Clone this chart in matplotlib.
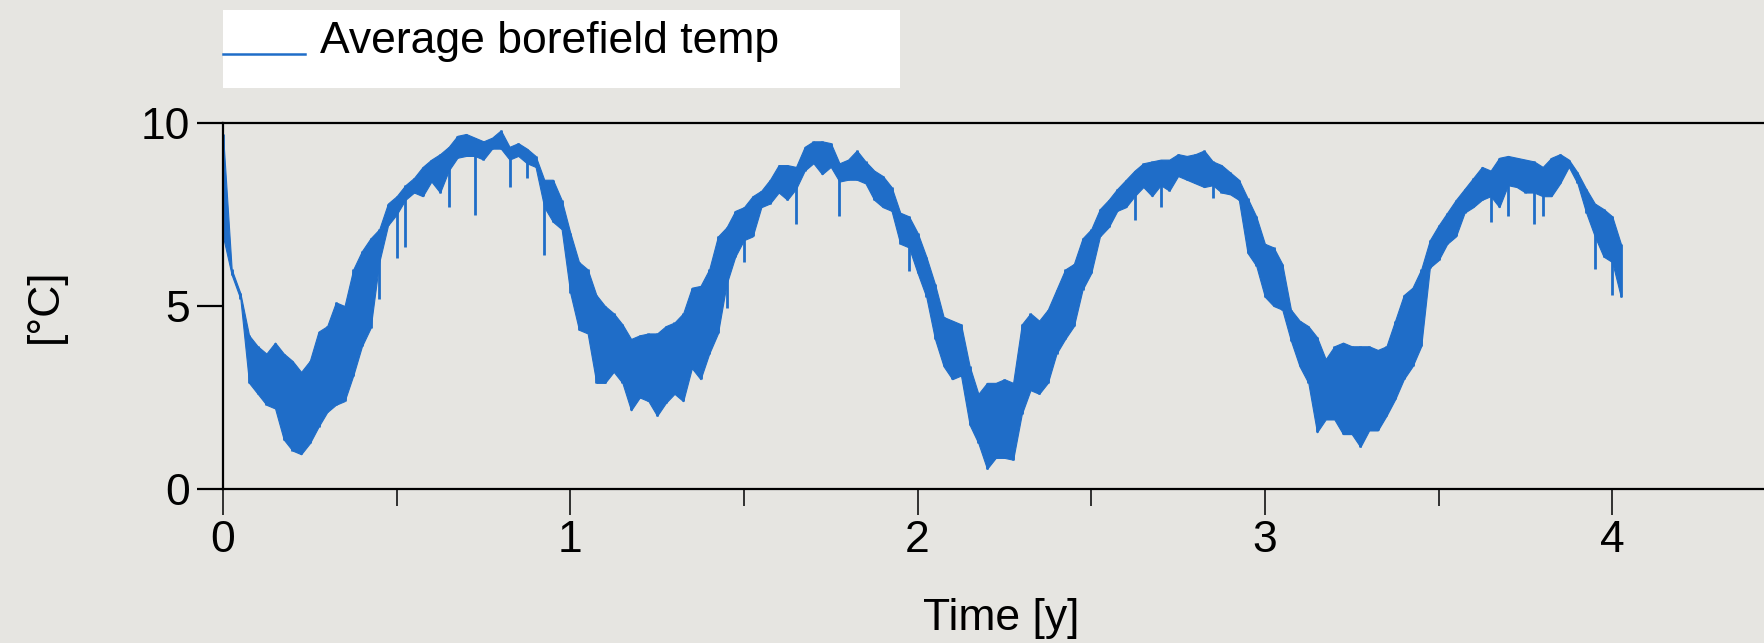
import matplotlib
matplotlib.use("Agg")
import matplotlib.pyplot as plt
from matplotlib.lines import Line2D
from matplotlib.patches import Rectangle

plt.rcParams['font.family'] = ['Liberation Sans', 'DejaVu Sans']

# ---- data (years; degC) ----
time_y = [
    0.000, 0.025, 0.050, 0.075, 0.100, 0.125, 0.150, 0.175, 0.200, 0.225,
    0.250, 0.275, 0.300, 0.325, 0.350, 0.375, 0.400, 0.425, 0.450, 0.475,
    0.500, 0.525, 0.550, 0.575, 0.600, 0.625, 0.650, 0.675, 0.700, 0.725,
    0.750, 0.775, 0.800, 0.825, 0.850, 0.875, 0.900, 0.925, 0.950, 0.975,
    1.000, 1.025, 1.050, 1.075, 1.100, 1.125, 1.150, 1.175, 1.200, 1.225,
    1.250, 1.275, 1.300, 1.325, 1.350, 1.375, 1.400, 1.425, 1.450, 1.475,
    1.500, 1.525, 1.550, 1.575, 1.600, 1.625, 1.650, 1.675, 1.700, 1.725,
    1.750, 1.775, 1.800, 1.825, 1.850, 1.875, 1.900, 1.925, 1.950, 1.975,
    2.000, 2.025, 2.050, 2.075, 2.100, 2.125, 2.150, 2.175, 2.200, 2.225,
    2.250, 2.275, 2.300, 2.325, 2.350, 2.375, 2.400, 2.425, 2.450, 2.475,
    2.500, 2.525, 2.550, 2.575, 2.600, 2.625, 2.650, 2.675, 2.700, 2.725,
    2.750, 2.775, 2.800, 2.825, 2.850, 2.875, 2.900, 2.925, 2.950, 2.975,
    3.000, 3.025, 3.050, 3.075, 3.100, 3.125, 3.150, 3.175, 3.200, 3.225,
    3.250, 3.275, 3.300, 3.325, 3.350, 3.375, 3.400, 3.425, 3.450, 3.475,
    3.500, 3.525, 3.550, 3.575, 3.600, 3.625, 3.650, 3.675, 3.700, 3.725,
    3.750, 3.775, 3.800, 3.825, 3.850, 3.875, 3.900, 3.925, 3.950, 3.975,
    4.000, 4.025,
]
# highest excursion in each sample window
temp_upper = [
    9.70, 6.00, 5.35, 4.20, 3.90, 3.70, 4.00, 3.70, 3.50, 3.20,
    3.50, 4.30, 4.45, 5.10, 5.00, 6.00, 6.50, 6.85, 7.10, 7.80,
    8.00, 8.30, 8.50, 8.80, 9.00, 9.15, 9.35, 9.65, 9.70, 9.60,
    9.50, 9.60, 9.80, 9.35, 9.45, 9.30, 9.10, 8.45, 8.45, 7.90,
    7.00, 6.20, 6.00, 5.30, 5.00, 4.80, 4.50, 4.10, 4.20, 4.25,
    4.25, 4.45, 4.55, 4.80, 5.50, 5.55, 6.00, 6.90, 7.15, 7.60,
    7.70, 8.00, 8.15, 8.45, 8.85, 8.85, 8.80, 9.35, 9.50, 9.50,
    9.45, 8.90, 9.00, 9.25, 8.95, 8.70, 8.55, 8.25, 7.55, 7.45,
    7.00, 6.35, 5.60, 4.70, 4.60, 4.50, 3.35, 2.60, 2.90, 2.90,
    3.00, 2.90, 4.50, 4.80, 4.60, 4.90, 5.45, 6.00, 6.15, 6.85,
    7.10, 7.65, 7.90, 8.20, 8.45, 8.70, 8.90, 8.95, 9.00, 9.00,
    9.15, 9.10, 9.15, 9.25, 8.95, 8.85, 8.65, 8.45, 7.95, 7.45,
    6.70, 6.60, 6.15, 4.90, 4.60, 4.45, 4.15, 3.55, 3.90, 4.00,
    3.90, 3.90, 3.90, 3.80, 3.90, 4.60, 5.30, 5.50, 6.00, 6.80,
    7.20, 7.55, 7.90, 8.20, 8.50, 8.80, 8.70, 9.05, 9.10, 9.05,
    9.00, 8.95, 8.80, 9.05, 9.15, 9.00, 8.65, 8.20, 7.80, 7.65,
    7.45, 6.70,
]
# lowest excursion (tips of the downward spikes) in each sample window
temp_lower = [
    6.90, 5.85, 5.20, 2.90, 2.60, 2.30, 2.20, 1.35, 1.05, 0.95,
    1.25, 1.70, 2.10, 2.30, 2.40, 3.10, 3.90, 4.40, 5.20, 7.20,
    6.30, 6.60, 8.10, 8.00, 8.40, 8.10, 7.70, 9.05, 9.10, 7.50,
    9.00, 9.30, 9.30, 8.25, 9.10, 8.50, 8.80, 6.40, 7.30, 7.10,
    5.35, 4.35, 4.25, 2.90, 2.90, 3.20, 2.90, 2.15, 2.50, 2.40,
    2.00, 2.35, 2.60, 2.40, 3.30, 3.00, 3.70, 4.25, 4.95, 6.35,
    6.20, 6.90, 7.70, 7.80, 8.10, 7.90, 7.25, 8.70, 8.90, 8.60,
    8.80, 7.45, 8.45, 8.45, 8.35, 7.90, 7.70, 7.60, 6.70, 5.95,
    5.90, 5.25, 4.10, 3.35, 3.00, 3.10, 1.75, 1.25, 0.55, 0.85,
    0.85, 0.80, 2.05, 2.70, 2.60, 2.90, 3.70, 4.10, 4.45, 5.45,
    5.90, 6.90, 7.15, 7.60, 7.70, 7.35, 8.25, 8.00, 7.70, 8.15,
    8.55, 8.45, 8.35, 8.25, 7.95, 8.10, 8.05, 7.90, 6.45, 6.10,
    5.25, 5.00, 4.90, 4.05, 3.35, 2.90, 1.55, 1.90, 1.90, 1.50,
    1.50, 1.15, 1.60, 1.60, 2.00, 2.45, 3.00, 3.35, 3.90, 6.05,
    6.25, 6.70, 6.90, 7.55, 7.70, 7.90, 7.30, 7.70, 7.45, 8.25,
    8.10, 7.25, 7.45, 8.00, 8.35, 8.80, 8.35, 7.55, 6.00, 6.35,
    5.30, 5.25,
]
# lower edge of the dense part of the band (without the isolated spikes)
temp_core_lower = [
    6.90, 5.85, 5.20, 2.90, 2.60, 2.30, 2.20, 1.35, 1.05, 0.95,
    1.25, 1.70, 2.10, 2.30, 2.40, 3.10, 3.90, 4.40, 6.20, 7.20,
    7.50, 7.90, 8.10, 8.00, 8.40, 8.10, 8.70, 9.05, 9.10, 9.10,
    9.00, 9.30, 9.30, 9.00, 9.10, 8.90, 8.80, 7.70, 7.30, 7.10,
    5.35, 4.35, 4.25, 2.90, 2.90, 3.20, 2.90, 2.15, 2.50, 2.40,
    2.00, 2.35, 2.60, 2.40, 3.30, 3.00, 3.70, 4.25, 5.60, 6.35,
    6.80, 6.90, 7.70, 7.80, 8.10, 7.90, 8.20, 8.70, 8.90, 8.60,
    8.80, 8.40, 8.45, 8.45, 8.35, 7.90, 7.70, 7.60, 6.70, 6.60,
    5.90, 5.25, 4.10, 3.35, 3.00, 3.10, 1.75, 1.25, 0.55, 0.85,
    0.85, 0.80, 2.05, 2.70, 2.60, 2.90, 3.70, 4.10, 4.45, 5.45,
    5.90, 6.90, 7.15, 7.60, 7.70, 8.00, 8.25, 8.00, 8.30, 8.15,
    8.55, 8.45, 8.35, 8.25, 8.30, 8.10, 8.05, 7.90, 6.45, 6.10,
    5.25, 5.00, 4.90, 4.05, 3.35, 2.90, 1.55, 1.90, 1.90, 1.50,
    1.50, 1.15, 1.60, 1.60, 2.00, 2.45, 3.00, 3.35, 3.90, 6.05,
    6.25, 6.70, 6.90, 7.55, 7.70, 7.90, 8.00, 7.70, 8.30, 8.25,
    8.10, 8.10, 8.00, 8.00, 8.35, 8.80, 8.35, 7.55, 6.90, 6.35,
    6.20, 5.25,
]
x_ticks_major = [0, 1, 2, 3, 4]
x_ticks_minor = [0.5, 1.5, 2.5, 3.5]
y_ticks = [0, 5, 10]
series_name = "Average borefield temp"
x_label = "Time [y]"
y_label = "[°C]"

# ---- style ----
BG = "#e6e5e1"
BLUE = "#1f6dc8"
W, H = 1764, 643
FS = 32

fig = plt.figure(figsize=(W / 100, H / 100), dpi=100, facecolor=BG)
ax = fig.add_axes([223 / W, (H - 489) / H, (W - 223) / W, 366 / H])
ax.set_facecolor(BG)

# dense band + thin vertical excursions (spikes)
ax.fill_between(time_y, temp_core_lower, temp_upper, color=BLUE, lw=0.8,
                edgecolor=BLUE)
ax.vlines(time_y, temp_lower, temp_upper, color=BLUE, lw=2.0)
line, = ax.plot(time_y[:1], temp_upper[:1], color=BLUE, lw=1.8)

ax.set_xlim(0, (W - 223) / 347.3)
ax.set_ylim(0, 10)

for s in ("left", "bottom", "top"):
    ax.spines[s].set_linewidth(1.6)
    ax.spines[s].set_color("black")
ax.spines["right"].set_visible(False)

ax.set_xticks(x_ticks_major)
ax.set_xticks(x_ticks_minor, minor=True)
ax.set_xticklabels([str(v) for v in x_ticks_major])
ax.set_yticks(y_ticks)
ax.set_yticklabels([str(v) for v in y_ticks])
ax.tick_params(axis="x", which="major", length=18.7, width=1.1, direction="out",
               pad=3.6, labelsize=FS)
ax.tick_params(axis="x", which="minor", length=12.2, width=1.1, direction="out")
ax.tick_params(axis="y", which="major", length=18.7, width=1.6, direction="out",
               pad=5, labelsize=FS)

ax.set_xlabel(x_label, fontsize=FS)
ax.xaxis.set_label_coords(0.505, -0.385)
ax.xaxis.label.set_va("baseline")
ax.set_ylabel(y_label, fontsize=FS)
ax.yaxis.set_label_coords(-0.102, 0.5)

# legend box (top-left, white)
fig.patches.append(Rectangle((223 / W, (H - 88) / H), (900 - 223) / W, 78 / H,
                             transform=fig.transFigure, facecolor="white",
                             edgecolor="none", zorder=0))
fig.lines.append(Line2D([223 / W, 305 / W], [(H - 54) / H] * 2,
                        transform=fig.transFigure, color=BLUE, lw=1.8))
fig.text(320 / W, (H - 53) / H, series_name, fontsize=FS, va="baseline", ha="left")

fig.savefig("out.png", dpi=100, facecolor=BG)
